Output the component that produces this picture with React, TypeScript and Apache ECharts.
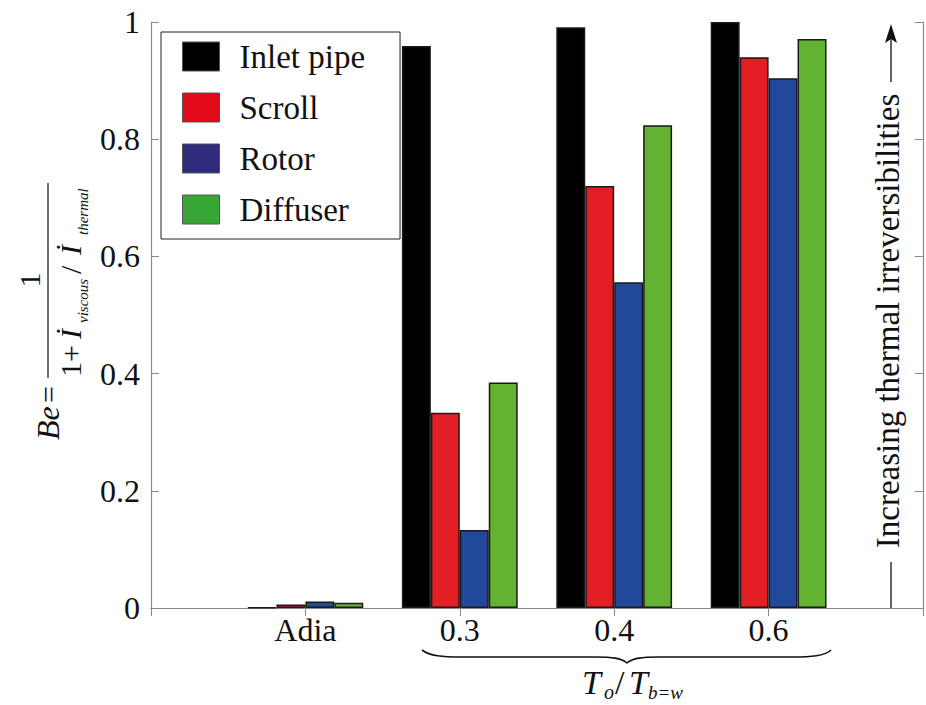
import React, { useEffect, useRef } from "react";
import * as echarts from "echarts";

const categories = ["Adia", "0.3", "0.4", "0.6"];
const inletPipe = [0.001, 0.959, 0.991, 1.0];
const scroll = [0.006, 0.333, 0.72, 0.94];
const rotor = [0.011, 0.133, 0.556, 0.904];
const diffuser = [0.009, 0.385, 0.824, 0.971];
const seriesNames = ["Inlet pipe", "Scroll", "Rotor", "Diffuser"];
const barColors = ["#000000", "#e31e25", "#21489a", "#64b232"];
const legendColors = ["#000000", "#e20a16", "#2f2a7c", "#38a636"];

const SERIF = "'Liberation Serif', 'Times New Roman', Times, serif";
const AXIS_GRAY = "#8a8a8a";

const bracePath =
  "M422,650 C430,656 442,657 462,657 L596,657 C612,657 621,658 627,663 C633,658 642,657 658,657 L792,657 C812,657 824,656 831,650";

echarts.graphic.registerShape("brace", echarts.graphic.extendPath(bracePath, {}));

function txt(x: number, y: number, text: string, size: number, opts: any = {}) {
  return {
    type: "text",
    x,
    y,
    style: {
      text,
      fontFamily: SERIF,
      fontSize: size,
      fontStyle: opts.italic ? "italic" : "normal",
      fill: "#111",
      align: opts.align || "left",
      textAlign: opts.align || "left",
      verticalAlign: "middle",
      textVerticalAlign: "middle",
    },
  };
}

export default function App() {
  const ref = useRef<HTMLDivElement>(null);
  useEffect(() => {
    if (!ref.current) return;
    const chart = echarts.init(ref.current, undefined, { renderer: "svg" });
    const axisCats = ["", ...categories, ""];
    const values = [inletPipe, scroll, rotor, diffuser];
    const series = values.map((v, i) => ({
      name: seriesNames[i],
      type: "bar",
      xAxisIndex: 0,
      yAxisIndex: 0,
      data: ["-", ...v, "-"],
      barGap: "0%",
      barCategoryGap: "25%",
      itemStyle: { color: barColors[i], borderColor: "#1a1a1a", borderWidth: 1.5 },
    }));

    const option: any = {
      animation: false,
      backgroundColor: "#fff",
      grid: { left: 151, top: 22, bottom: 97, right: -7 },
      legend: {
        orient: "vertical",
        left: 161,
        top: 32,
        padding: [8, 35, 13, 21],
        backgroundColor: "#fff",
        borderColor: "#222",
        borderWidth: 1,
        itemWidth: 37,
        itemHeight: 29,
        itemGap: 18,
        selectedMode: false,
        icon: "rect",
        textStyle: { fontFamily: SERIF, fontSize: 33, color: "#111", padding: [0, 0, 0, 15] },
        data: seriesNames.map((n, i) => ({
          name: n,
          itemStyle: { color: legendColors[i], borderColor: "#555", borderWidth: 1 },
        })),
      },
      xAxis: [
        {
          type: "category",
          data: axisCats,
          boundaryGap: false,
          axisLine: { show: true, lineStyle: { color: AXIS_GRAY, width: 1.2 } },
          axisTick: { show: false },
          axisLabel: { fontFamily: SERIF, fontSize: 32, color: "#111", margin: 6, interval: 0 },
          splitLine: { show: false },
        },
        {
          type: "category",
          data: axisCats,
          boundaryGap: false,
          position: "top",
          axisLine: { show: true, lineStyle: { color: AXIS_GRAY, width: 1.2 } },
          axisTick: { show: true, inside: true, length: 8, interval: 0, lineStyle: { color: AXIS_GRAY } },
          axisLabel: { show: false },
          splitLine: { show: false },
        },
      ],
      yAxis: [
        {
          type: "value",
          min: 0,
          max: 1,
          interval: 0.2,
          axisLine: { show: true, lineStyle: { color: AXIS_GRAY, width: 1.2 } },
          axisTick: { show: true, inside: true, length: 8, lineStyle: { color: AXIS_GRAY } },
          axisLabel: { fontFamily: SERIF, fontSize: 32, color: "#111", margin: 11 },
          splitLine: { show: false },
        },
        {
          type: "value",
          min: 0,
          max: 1,
          interval: 0.2,
          position: "right",
          axisLine: { show: true, lineStyle: { color: AXIS_GRAY, width: 1.2 } },
          axisTick: { show: true, inside: true, length: 8, lineStyle: { color: AXIS_GRAY } },
          axisLabel: { show: false },
          splitLine: { show: false },
        },
      ],
      series,
      graphic: [
        {
          type: "group",
          x: 48,
          y: 440,
          rotation: Math.PI / 2,
          children: [
            txt(0, 0, "Be", 32, { italic: true }),
            txt(37, 0, "=", 30),
            {
              type: "line",
              shape: { x1: 62, y1: 0, x2: 257, y2: 0 },
              style: { stroke: "#111", lineWidth: 1.2 },
            },
            txt(160, -19, "1", 30, { align: "center" }),
            txt(63, 22, "1+", 30),
            txt(101, 22, "İ", 30, { italic: true }),
            txt(117, 35, "viscous", 15, { italic: true }),
            txt(166, 22, "/", 30),
            txt(185, 22, "İ", 30, { italic: true }),
            txt(205, 35, "thermal", 15, { italic: true }),
          ],
        },
        {
          type: "brace",
          x: 0,
          y: 0,
          style: { stroke: "#111", fill: "none", lineWidth: 1.6 },
        },
        txt(582, 682, "T", 34, { italic: true }),
        txt(604, 692, "o", 20, { italic: true }),
        txt(615, 682, "/", 34),
        txt(629, 682, "T", 34, { italic: true }),
        txt(648, 692, "b=w", 19, { italic: true }),
        {
          type: "text",
          x: 888,
          y: 321,
          rotation: Math.PI / 2,
          style: {
            text: "Increasing thermal irreversibilities",
            fontFamily: SERIF,
            fontSize: 33,
            fill: "#111",
            align: "center",
            textAlign: "center",
            verticalAlign: "middle",
            textVerticalAlign: "middle",
          },
        },
        {
          type: "line",
          shape: { x1: 891, y1: 82, x2: 891, y2: 38 },
          style: { stroke: "#111", lineWidth: 1.3 },
        },
        {
          type: "polygon",
          shape: { points: [[891, 24], [897, 43], [891, 39], [885, 43]] },
          style: { fill: "#111" },
        },
        {
          type: "line",
          shape: { x1: 891, y1: 562, x2: 891, y2: 608 },
          style: { stroke: "#111", lineWidth: 1.3 },
        },
      ],
    };
    chart.setOption(option);
    return () => chart.dispose();
  }, []);
  return (
    <div
      ref={ref}
      style={{ position: "fixed", left: 0, top: 0, width: 926, height: 705, background: "#fff" }}
    />
  );
}
